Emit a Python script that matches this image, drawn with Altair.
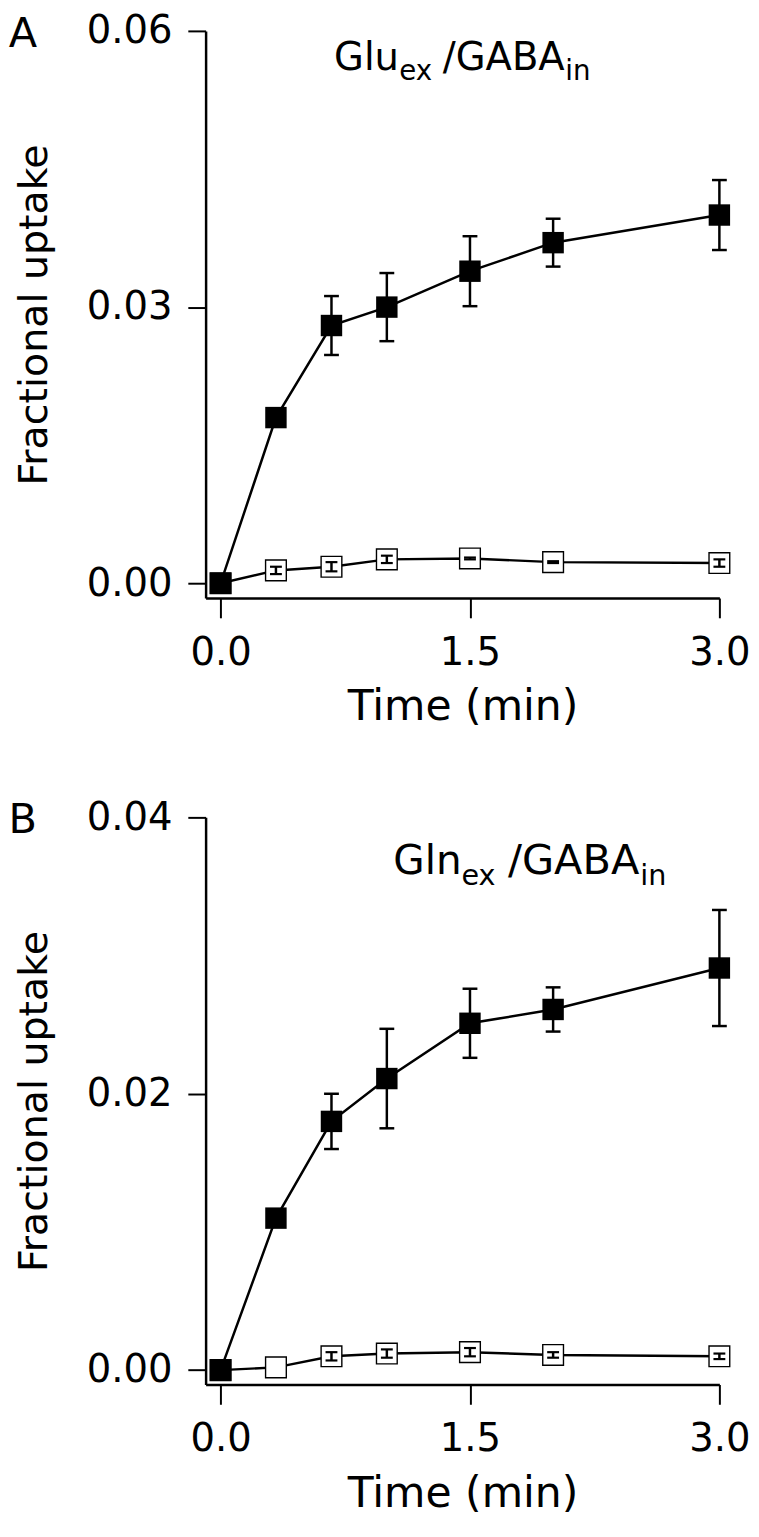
import altair as alt
import pandas as pd

# ---- data ----
times = [0.0, 0.333, 0.667, 1.0, 1.5, 2.0, 3.0]

glu_filled = [0.0, 0.0180, 0.0280, 0.0300, 0.0339, 0.0370, 0.0400]
glu_filled_err = [0.0, 0.0, 0.0032, 0.0037, 0.0038, 0.0026, 0.0038]
glu_open = [0.0, 0.0014, 0.0018, 0.0026, 0.0027, 0.0023, 0.0022]
glu_open_err = [0.0, 0.0004, 0.0005, 0.0004, 0.0001, 0.0001, 0.0004]

gln_filled = [0.0, 0.0110, 0.0180, 0.0211, 0.0251, 0.0261, 0.0291]
gln_filled_err = [0.0, 0.0, 0.0020, 0.0036, 0.0025, 0.0016, 0.0042]
gln_open = [0.0, 0.0002, 0.0010, 0.0012, 0.0013, 0.0011, 0.0010]
gln_open_err = [0.0, 0.0, 0.0003, 0.0003, 0.0003, 0.0002, 0.0002]

x_ticks = [0.0, 1.5, 3.0]
yA_ticks = [0.0, 0.03, 0.06]
yB_ticks = [0.0, 0.02, 0.04]

FONT = "DejaVu Sans"
W, H = 520, 574


def frame(filled, filled_err, opn, opn_err):
    rows = []
    for t, v, e in zip(times, filled, filled_err):
        rows.append({"t": t, "v": v, "lo": v - e, "hi": v + e, "err": e, "s": "filled"})
    for t, v, e in zip(times, opn, opn_err):
        rows.append({"t": t, "v": v, "lo": v - e, "hi": v + e, "err": e, "s": "open"})
    return pd.DataFrame(rows)


def panel(df, ydom, yticks, letter, ttl, ttl_y):
    xs = alt.Scale(domain=[-0.09, 3.0], nice=False, zero=False)
    ys = alt.Scale(domain=ydom, nice=False, zero=False)
    xax = alt.Axis(values=x_ticks, format=".1f", title="Time (min)", grid=False,
                   tickSize=20, tickWidth=2, domainWidth=2.5, domainColor="black",
                   tickColor="black", labelFontSize=39, labelFont=FONT, labelColor="black",
                   labelPadding=16, titleFontSize=43, titleFont=FONT, titleFontWeight="normal",
                   titleColor="black", titlePadding=14, labelFlush=False)
    yax = alt.Axis(values=yticks, format=".2f", title="Fractional uptake", grid=False,
                   tickSize=18, tickWidth=2, domainWidth=2.5, domainColor="black",
                   tickColor="black", labelFontSize=39, labelFont=FONT, labelColor="black",
                   labelPadding=16, titleFontSize=40, titleFont=FONT, titleFontWeight="normal",
                   titleColor="black", titlePadding=32, labelFlush=False)
    base = alt.Chart(df)
    x = alt.X("t:Q", scale=xs, axis=xax)
    y = alt.Y("v:Q", scale=ys, axis=yax)
    line = base.mark_line(color="black", strokeWidth=2.5).encode(x=x, y=y, detail="s:N")
    pts_open = base.transform_filter("datum.s == 'open'").mark_square(
        size=440, opacity=1, fill="white", stroke="black", strokeWidth=1.4).encode(x=x, y=y)
    pts_fill = base.transform_filter("datum.s == 'filled'").mark_square(
        size=470, opacity=1, fill="black", stroke="black", strokeWidth=0).encode(x=x, y=y)
    e = base.transform_filter("datum.err > 0")
    rules = e.mark_rule(color="black", strokeWidth=2.5).encode(
        x="t:Q", y=alt.Y("lo:Q"), y2="hi:Q")
    caps = []
    for col in ["lo", "hi"]:
        caps.append(e.transform_filter("datum.s == 'filled'").mark_tick(
            orient="horizontal", size=15, thickness=2.5, color="black", opacity=1
        ).encode(x="t:Q", y=f"{col}:Q"))
        caps.append(e.transform_filter("datum.s == 'open'").mark_tick(
            orient="horizontal", size=12, thickness=2.2, color="black", opacity=1
        ).encode(x="t:Q", y=f"{col}:Q"))

    one = pd.DataFrame({"k": [0]})
    tb = alt.Chart(one)
    let = tb.mark_text(text=letter, font=FONT, fontSize=42, align="center", baseline="middle",
                       color="black").encode(x=alt.value(-185), y=alt.value(3))
    texts = [let]
    for txt, xp, dy, fs in ttl:
        texts.append(tb.mark_text(text=txt, font=FONT, fontSize=fs, align="left",
                                  baseline="alphabetic", color="black").encode(
            x=alt.value(xp), y=alt.value(ttl_y + dy)))

    return alt.layer(line, pts_open, pts_fill, rules, *caps, *texts).properties(width=W, height=H)


dfA = frame(glu_filled, glu_filled_err, glu_open, glu_open_err)
dfB = frame(gln_filled, gln_filled_err, gln_open, gln_open_err)

ttlA = [("Glu", 130, 0, 39), ("ex", 196, 10, 28), ("/GABA", 240, 0, 39), ("in", 364, 10, 28)]
ttlB = [("Gln", 190, 0, 41), ("ex", 259, 11, 29), ("/GABA", 306, 0, 42), ("in", 440, 11, 29)]

pA = panel(dfA, [-0.0016, 0.06], yA_ticks, "A", ttlA, 40)
pB = panel(dfB, [-0.00104, 0.04], yB_ticks, "B", ttlB, 57)

chart = alt.vconcat(pA, pB, spacing=71).properties(
    padding={"left": 0, "top": -5, "right": 0, "bottom": 0}
).configure(background="white").configure_view(stroke=None)

chart.save("out.html", embed_options={"renderer": "svg", "actions": False})
